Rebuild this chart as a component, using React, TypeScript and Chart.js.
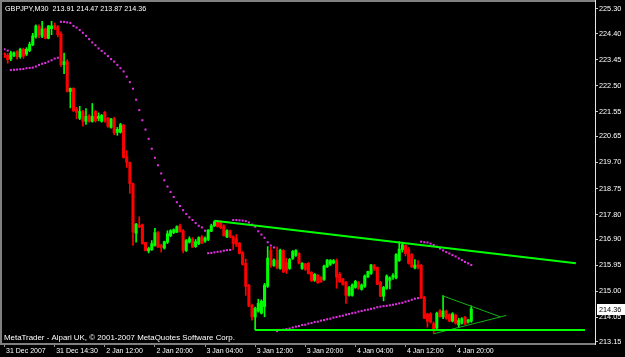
import React, { useEffect, useRef } from "react";
import { Chart, registerables } from "chart.js";

Chart.register(...registerables);

// ---- data (GBPJPY, M30) ----
const opens = [
  223.67, 223.61, 223.47, 223.60, 223.74, 223.56, 223.83, 223.65, 223.78, 223.99,
  224.28, 224.67, 224.30, 224.57, 224.23, 224.58, 224.70, 224.65, 224.39, 223.27,
  223.38, 222.29, 222.40, 221.65, 221.31, 221.55, 221.20, 221.40, 221.20, 221.56,
  221.31, 221.20, 221.53, 221.31, 220.98, 221.29, 220.80, 220.80, 221.06, 219.91,
  219.70, 218.93, 217.12, 217.41, 217.43, 216.78, 216.47, 216.52, 216.67, 217.14,
  216.67, 216.58, 216.79, 217.03, 217.14, 217.16, 217.39, 217.21, 216.49, 216.79,
  216.90, 216.63, 216.74, 216.98, 216.83, 216.89, 217.19, 217.39, 217.54, 217.52,
  217.39, 216.98, 217.21, 216.99, 216.92, 216.76, 216.41, 216.02, 215.22, 214.49,
  214.06, 214.28, 214.20, 214.44, 215.18, 216.49, 215.94, 216.14, 215.83, 216.49,
  216.05, 215.83, 216.20, 216.31, 216.38, 215.83, 216.00, 216.02, 215.69, 215.40,
  215.58, 215.51, 215.43, 215.89, 215.98, 216.03, 216.12, 215.63, 215.45, 215.33,
  214.85, 214.85, 215.14, 215.33, 215.07, 215.18, 215.52, 215.65, 215.94, 215.87,
  215.33, 214.82, 215.11, 215.40, 215.51, 215.49, 216.12, 216.52, 216.67, 216.54,
  216.34, 215.85, 215.96, 215.94, 214.78, 214.17, 214.18, 213.82, 213.66, 214.29,
  214.07, 214.28, 214.15, 213.91, 214.13, 213.77, 213.84, 214.06, 213.88, 213.91,
];
const highs = [
  223.70, 223.67, 223.76, 223.74, 223.78, 223.87, 223.87, 223.89, 224.09, 224.41,
  224.72, 224.72, 224.85, 224.61, 224.70, 224.85, 224.79, 224.70, 224.47, 223.69,
  223.45, 222.42, 222.43, 221.71, 221.75, 221.60, 221.67, 221.45, 221.85, 221.60,
  221.51, 221.45, 221.56, 221.35, 221.31, 221.35, 220.98, 221.13, 221.09, 220.13,
  219.71, 218.95, 217.48, 217.72, 217.45, 216.79, 216.61, 216.85, 217.30, 217.18,
  216.72, 216.83, 217.21, 217.25, 217.28, 217.39, 217.45, 217.25, 216.89, 216.99,
  216.96, 216.89, 216.99, 217.03, 216.99, 217.25, 217.45, 217.57, 217.57, 217.56,
  217.43, 217.25, 217.23, 217.03, 217.07, 216.78, 216.45, 216.18, 215.25, 214.53,
  214.42, 214.71, 214.69, 215.29, 216.63, 216.60, 216.18, 216.61, 216.54, 216.52,
  216.20, 216.20, 216.49, 216.52, 216.41, 216.05, 216.02, 216.05, 215.72, 215.65,
  215.62, 215.54, 215.96, 216.16, 216.16, 216.16, 216.18, 215.69, 215.47, 215.36,
  215.18, 215.27, 215.40, 215.36, 215.27, 215.60, 215.74, 215.98, 215.98, 215.89,
  215.36, 215.18, 215.60, 215.53, 215.65, 216.38, 216.81, 216.79, 216.70, 216.60,
  216.38, 216.16, 216.12, 215.98, 214.82, 214.20, 214.22, 213.88, 214.24, 214.33,
  214.84, 214.31, 214.18, 214.22, 214.17, 214.02, 214.04, 214.09, 213.98, 214.47,
];
const lows = [
  223.52, 223.32, 223.41, 223.56, 223.47, 223.50, 223.50, 223.60, 223.74, 223.96,
  224.23, 224.25, 224.25, 224.21, 224.21, 224.36, 224.54, 224.28, 223.20, 222.94,
  222.27, 221.69, 221.56, 221.29, 221.26, 221.02, 221.09, 221.17, 221.17, 221.17,
  221.22, 221.17, 221.17, 220.98, 220.95, 220.71, 220.69, 220.77, 219.86, 219.52,
  218.57, 216.67, 216.79, 217.32, 216.72, 216.47, 216.40, 216.49, 216.65, 216.60,
  216.43, 216.54, 216.74, 216.99, 217.10, 217.14, 217.16, 216.40, 216.45, 216.76,
  216.60, 216.60, 216.70, 216.74, 216.78, 216.85, 217.18, 217.36, 217.34, 217.28,
  217.01, 216.96, 216.96, 216.52, 216.63, 216.36, 215.96, 214.85, 214.44, 213.95,
  213.59, 214.24, 214.17, 214.07, 215.14, 215.87, 215.91, 215.82, 215.80, 215.69,
  215.65, 215.80, 216.16, 216.27, 216.00, 215.80, 215.76, 215.63, 215.36, 215.36,
  215.29, 215.33, 215.40, 215.87, 215.94, 216.00, 215.11, 215.33, 215.22, 214.56,
  214.82, 214.82, 215.11, 215.07, 215.04, 215.14, 215.51, 215.62, 215.76, 215.24,
  214.80, 214.65, 215.07, 215.09, 215.43, 215.45, 216.09, 216.43, 216.29, 215.99,
  215.87, 215.82, 215.82, 214.73, 214.00, 213.69, 213.84, 213.46, 213.62, 214.06,
  214.00, 213.98, 213.89, 213.88, 213.80, 213.67, 213.80, 213.79, 213.84, 213.87,
];
const closes = [
  223.56, 223.45, 223.70, 223.70, 223.56, 223.83, 223.58, 223.83, 224.01, 224.32,
  224.68, 224.36, 224.57, 224.23, 224.68, 224.68, 224.61, 224.36, 223.27, 223.38,
  222.29, 222.40, 221.58, 221.53, 221.56, 221.20, 221.38, 221.20, 221.38, 221.22,
  221.38, 221.42, 221.20, 221.02, 221.29, 220.78, 220.91, 221.08, 219.88, 219.70,
  218.93, 217.16, 217.45, 217.34, 216.74, 216.49, 216.56, 216.74, 217.14, 216.61,
  216.60, 216.81, 217.10, 217.21, 217.25, 217.36, 217.18, 216.49, 216.85, 216.92,
  216.61, 216.81, 216.96, 216.76, 216.94, 217.23, 217.39, 217.54, 217.36, 217.32,
  217.03, 217.21, 216.98, 216.74, 216.72, 216.38, 215.98, 215.18, 214.46, 214.07,
  214.38, 214.56, 214.64, 215.22, 216.21, 215.94, 216.14, 215.87, 216.50, 215.70,
  215.76, 216.16, 216.45, 216.49, 216.02, 216.02, 215.80, 215.65, 215.38, 215.62,
  215.31, 215.34, 215.92, 216.14, 216.12, 216.12, 215.52, 215.34, 215.25, 214.85,
  215.14, 215.23, 215.36, 215.11, 215.23, 215.56, 215.72, 215.96, 215.83, 215.25,
  214.82, 215.14, 215.56, 215.49, 215.58, 216.34, 216.54, 216.70, 216.38, 216.02,
  215.89, 215.96, 215.89, 214.75, 214.02, 213.91, 213.88, 213.60, 214.20, 214.07,
  214.28, 214.02, 213.91, 214.18, 213.84, 213.95, 214.00, 213.80, 213.95, 214.36,
];
// Parabolic SAR
const sar = [
  223.83, 223.78, 223.07, 223.08, 223.09, 223.10, 223.11, 223.14, 223.15, 223.16,
  223.20, 223.26, 223.30, 223.33, 223.38, 223.43, 223.49, 223.52, 224.83, 224.83,
  224.81, 224.79, 224.68, 224.62, 224.53, 224.43, 224.32, 224.20, 224.08, 223.98,
  223.86, 223.77, 223.68, 223.58, 223.47, 223.38, 223.26, 223.14, 223.02, 222.83,
  222.63, 222.39, 221.99, 221.61, 221.24, 220.90, 220.56, 220.20, 219.87, 219.60,
  219.30, 219.05, 218.82, 218.62, 218.44, 218.25, 218.11, 217.96, 217.82, 217.70,
  217.60, 217.49, 217.39, 217.33, 217.21, 216.39, 216.40, 216.42, 216.44, 216.45,
  216.48, 216.50, 216.51, 217.60, 217.60, 217.59, 217.58, 217.56, 217.51, 217.43,
  217.36, 217.19, 217.07, 216.95, 216.79, 216.67, 216.60, 213.55, 213.59, 213.60,
  213.62, 213.64, 213.68, 213.71, 213.73, 213.77, 213.78, 213.82, 213.84, 213.88,
  213.89, 213.93, 213.95, 213.98, 214.00, 214.04, 214.06, 214.09, 214.11, 214.15,
  214.17, 214.20, 214.22, 214.26, 214.28, 214.31, 214.33, 214.36, 214.38, 214.42,
  214.44, 214.46, 214.47, 214.49, 214.51, 214.53, 214.56, 214.58, 214.62, 214.65,
  214.69, 214.73, 214.75, 216.81, 216.79, 216.78, 216.74, 216.69, 216.63, 216.56,
  216.49, 216.43, 216.38, 216.32, 216.27, 216.20, 216.14, 216.07, 216.02, 215.96,
];

const timeLabels = [
  "31 Dec 2007", "31 Dec 14:30", "2 Jan 12:00", "2 Jan 20:00", "3 Jan 04:00",
  "3 Jan 12:00", "3 Jan 20:00", "4 Jan 04:00", "4 Jan 12:00", "4 Jan 20:00",
];
const timeLabelBars = [0, 16, 32, 48, 64, 80, 96, 112, 128, 144];
const priceTicks = [
  213.15, 214.05, 215.0, 215.95, 216.9, 217.8, 218.75, 219.7, 220.65, 221.55,
  222.5, 223.45, 224.4, 225.3,
];

// trend lines (bar index, price)
const resistanceLine = [
  { x: 67, y: 217.57 },
  { x: 182.4, y: 216.02 },
];
const supportLine = [
  { x: 80, y: 213.59 },
  { x: 185.3, y: 213.59 },
];
const triangleUpper = [
  { x: 140.2, y: 214.82 },
  { x: 158.3, y: 214.07 },
];
const triangleLower = [
  { x: 137, y: 213.45 },
  { x: 160.2, y: 214.12 },
];

const titleText = "GBPJPY,M30  213.91 214.47 213.87 214.36";
const copyrightText = "MetaTrader - Alpari UK, \u00A9 2001-2007 MetaQuotes Software Corp.";
const lastPrice = 214.36;

const W = 625;
const H = 357;
const FONT_FAMILY = '"Liberation Sans", Arial, sans-serif';
const UP = "#00ff00";
const DOWN = "#ff0000";

export default function App() {
  const ref = useRef<HTMLCanvasElement | null>(null);

  useEffect(() => {
    document.body.style.margin = "0";
    document.body.style.background = "#000";
    const canvas = ref.current;
    if (!canvas) return;

    const candleColors = opens.map((o, i) => (closes[i] >= o ? UP : DOWN));
    const bodies = opens.map((o, i) => ({ x: i, y: [o, closes[i]] }));
    const wicks = lows.map((l, i) => ({ x: i, y: [l, highs[i]] }));
    const sarPts = sar.map((v, i) => ({ x: i, y: v }));

    const decor = {
      id: "mt4decor",
      beforeDraw(chart: any) {
        const ctx = chart.ctx;
        ctx.save();
        ctx.fillStyle = "#000";
        ctx.fillRect(0, 0, W, H);
        ctx.restore();
      },
      afterDraw(chart: any) {
        const ctx = chart.ctx;
        const a = chart.chartArea;
        ctx.save();
        // frame
        ctx.fillStyle = "#808080";
        ctx.fillRect(0, 0, a.right, 2);
        ctx.fillRect(0, 0, 2, a.bottom + 1);
        ctx.fillRect(0, a.bottom - 1, a.right, 2);
        ctx.fillStyle = "#e6e6e6";
        ctx.fillRect(a.right, 0, 1, a.bottom + 1);
        // texts
        ctx.fillStyle = "#ffffff";
        ctx.textBaseline = "alphabetic";
        ctx.textAlign = "left";
        ctx.font = `7.2px ${FONT_FAMILY}`;
        ctx.fillText(titleText, 5, 11);
        ctx.font = `7.9px ${FONT_FAMILY}`;
        ctx.fillText(copyrightText, 4, 340);
        // current price box
        const y = chart.scales.y.getPixelForValue(lastPrice);
        ctx.fillStyle = "#ffffff";
        ctx.fillRect(a.right + 2, Math.round(y) - 5, 28, 11);
        ctx.fillStyle = "#000000";
        ctx.textBaseline = "middle";
        ctx.font = `7.3px ${FONT_FAMILY}`;
        ctx.fillText(lastPrice.toFixed(2), a.right + 4, Math.round(y) + 0.5);
        ctx.restore();
      },
    };

    const chart = new Chart(canvas, {
      type: "bar",
      data: {
        datasets: [
          {
            type: "line",
            data: resistanceLine,
            borderColor: "#00ff00",
            borderWidth: 2,
            pointRadius: 0,
            tension: 0,
            fill: false,
            order: 0,
          } as any,
          {
            type: "line",
            data: supportLine,
            borderColor: "#00ff00",
            borderWidth: 2,
            pointRadius: 0,
            tension: 0,
            fill: false,
            order: 0,
          } as any,
          {
            type: "line",
            data: triangleUpper,
            borderColor: "#16b016",
            borderWidth: 1,
            pointRadius: 0,
            tension: 0,
            fill: false,
            order: 0,
          } as any,
          {
            type: "line",
            data: triangleLower,
            borderColor: "#16b016",
            borderWidth: 1,
            pointRadius: 0,
            tension: 0,
            fill: false,
            order: 0,
          } as any,
          {
            type: "line",
            data: sarPts,
            showLine: false,
            pointStyle: "rect",
            pointRadius: 1.45,
            pointBackgroundColor: "#e030e0",
            pointBorderWidth: 0,
            order: 1,
          } as any,
          {
            type: "bar",
            data: bodies,
            backgroundColor: candleColors,
            borderWidth: 0,
            barThickness: 2.4,
            grouped: false,
            order: 2,
          } as any,
          {
            type: "bar",
            data: wicks,
            backgroundColor: candleColors,
            borderWidth: 0,
            barThickness: 1,
            grouped: false,
            order: 3,
          } as any,
        ],
      },
      options: {
        responsive: false,
        animation: false,
        events: [],
        layout: { padding: { top: 2, left: 2, right: 0, bottom: 0 } },
        plugins: {
          legend: { display: false },
          tooltip: { enabled: false },
          title: { display: false },
        },
        scales: {
          x: {
            type: "linear",
            position: "bottom",
            min: -0.18,
            max: 188.5,
            offset: false,
            afterBuildTicks: (s: any) => {
              s.ticks = timeLabelBars.map((v) => ({ value: v }));
            },
            afterFit: (s: any) => {
              s.height = H - 344;
              s.paddingLeft = 0;
              s.paddingRight = 0;
            },
            ticks: {
              autoSkip: false,
              maxRotation: 0,
              minRotation: 0,
              align: "start",
              labelOffset: 1.5,
              padding: 0,
              color: "#ffffff",
              font: { family: FONT_FAMILY, size: 7, lineHeight: 1.1 },
              callback: (v: any) => {
                const k = timeLabelBars.indexOf(Number(v));
                return k >= 0 ? timeLabels[k] : "";
              },
            },
            grid: {
              drawOnChartArea: false,
              drawTicks: true,
              tickLength: 3,
              color: "#909090",
              offset: false,
            },
            border: { display: false },
          } as any,
          y: {
            type: "linear",
            position: "right",
            min: 213.077,
            max: 225.481,
            afterBuildTicks: (s: any) => {
              s.ticks = priceTicks.map((v) => ({ value: v }));
            },
            afterFit: (s: any) => {
              s.width = W - 595;
              s.paddingTop = 0;
              s.paddingBottom = 0;
            },
            ticks: {
              color: "#ffffff",
              padding: 1,
              font: { family: FONT_FAMILY, size: 7.3 },
              callback: (v: any) => Number(v).toFixed(2),
            },
            grid: {
              drawOnChartArea: false,
              drawTicks: true,
              tickLength: 3,
              color: "#c8c8c8",
            },
            border: { display: false },
          } as any,
        },
      },
      plugins: [decor],
    } as any);

    return () => chart.destroy();
  }, []);

  return (
    <div style={{ position: "fixed", left: 0, top: 0, width: W, height: H, background: "#000" }}>
      <canvas ref={ref} width={W} height={H} style={{ display: "block", width: W, height: H }} />
    </div>
  );
}
